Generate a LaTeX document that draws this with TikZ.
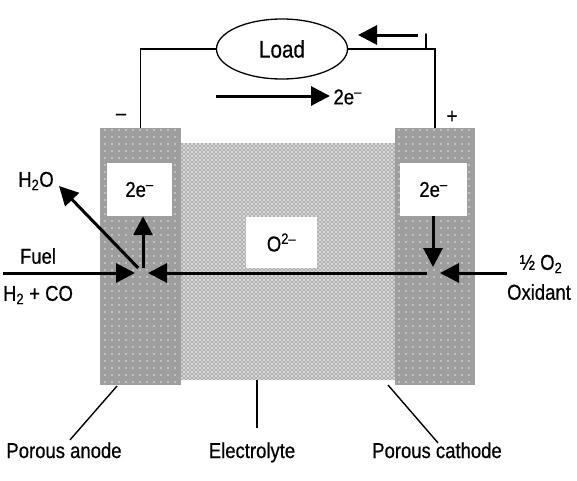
\documentclass[tikz,border=0pt]{standalone}
\usepackage{fontspec}
\setmainfont{Liberation Sans}[FakeStretch=0.86,FakeBold=0.6]
\usetikzlibrary{arrows.meta,shapes.geometric,patterns.meta}

\tikzdeclarepattern{
  name=porousdots,
  type=uncolored,
  bounding box={(-1pt,-1pt) and (1pt,1pt)},
  tile size={(7pt,7pt)},
  code={\fill (0pt,0pt) circle (0.8pt);}
}
\tikzdeclarepattern{
  name=grainydots,
  type=uncolored,
  bounding box={(-1.5pt,-1.5pt) and (3.5pt,3.5pt)},
  tile size={(4pt,4pt)},
  code={\fill (0pt,0pt) circle (1.1pt); \fill (2pt,2pt) circle (0.9pt);}
}

\begin{document}
\begin{tikzpicture}[x=1pt,y=-1pt,
  every node/.style={font=\fontsize{21.5}{23}\selectfont},
  electrode/.style={rectangle,inner sep=0pt,minimum width=81pt,minimum height=257pt,
    fill=black!38,postaction={pattern=porousdots,pattern color=white!70!black!38}},
  electrolyte/.style={rectangle,inner sep=0pt,minimum width=214pt,minimum height=237pt,
    fill=gray!62,postaction={pattern=grainydots,pattern color=white!92!black}},
  chargebox/.style={rectangle,fill=white,inner sep=0pt,minimum height=53pt},
  wire/.style={line width=1.5pt},
  flow/.style={line width=3pt,-{Triangle[length=19pt,width=19pt]}},
  leader/.style={line width=1.4pt}]
  \useasboundingbox (0,0) rectangle (577,480);
  % cell: electrolyte between the two porous electrodes
  \node[electrolyte]                      (E)     at (288,261.5) {};
  \node[electrode]                        (A)     at (140.5,256.5) {};
  \node[electrode,minimum width=80pt]     (C)     at (435,256.5) {};
  \node[chargebox,minimum width=65pt]     (Abox)  at (139.5,189.5) {2e\textsuperscript{–}};
  \node[chargebox,minimum width=67pt]     (Cbox)  at (433.5,189.5) {2e\textsuperscript{–}};
  \node[chargebox,minimum width=71pt,minimum height=51pt] (Obox) at (281.5,242.5) {O\textsuperscript{2–}};
  % external circuit
  \node[ellipse,draw,line width=1.3pt,minimum width=131pt,minimum height=60pt,
    font=\fontsize{24}{26}\selectfont] (load) at (282,49) {Load};
  \draw[wire] (A.north) |- (load.west);
  \draw[wire] (C.north) |- (load.east);
  \node (minus) at (121,117) {–};
  \node (plus)  at (452,117) {+};
  \node (I)     at (426,41)  {I};
  \coordinate (Ia) at (418,35);  \coordinate (Ib) at (358,35);
  \draw[flow] (Ia) -- (Ib);
  \node[anchor=west] (eflow) at (330,97) {2e\textsuperscript{–}};
  \coordinate (ea) at (216,96);
  \draw[flow] (ea) -- (eflow.west |- ea);
  % reaction sites
  \coordinate (ap) at (143,273);
  \coordinate (cp) at (433,273);
  \node (fuel) at (38,256) {Fuel};
  \node (gas)  at (38,295) {H\textsubscript{2} + CO};
  \node (h2o)  at (36,181) {H\textsubscript{2}O};
  \node (half) at (541,264) {½ O\textsubscript{2}};
  \node (ox)   at (539,292) {Oxidant};
  \coordinate (fuelin) at (3,273);
  \coordinate (oxin)   at (507,273);
  \coordinate (h2oend) at (59,186);
  \draw[flow,shorten >=8pt] (fuelin) -- (ap);
  \draw[flow,shorten <=6pt,shorten >=5pt] (cp) -- (ap);
  \draw[flow,shorten <=5pt] (ap) -- (ap |- Abox.south);
  \draw[flow,shorten <=7pt] (ap) -- (h2oend);
  \draw[flow,shorten >=6pt] (cp |- Cbox.south) -- (cp);
  \draw[flow,shorten >=7pt] (oxin) -- (cp);
  % labels below
  \node[anchor=base] (Alab) at (64,458)  {Porous anode};
  \node[anchor=base] (Elab) at (252,458) {Electrolyte};
  \node[anchor=base] (Clab) at (437,458) {Porous cathode};
  \coordinate (Aleg) at (117,386);
  \coordinate (Eleg) at (257,380);
  \coordinate (Cleg) at (388,385);
  \draw[leader] (Aleg) -- ([xshift=6pt,yshift=-1pt]Alab.north);
  \draw[leader] (Eleg) -- (Eleg |- 0,428);
  \draw[leader] (Cleg) -- ([xshift=1pt,yshift=-4pt]Clab.north);
\end{tikzpicture}
\end{document}
